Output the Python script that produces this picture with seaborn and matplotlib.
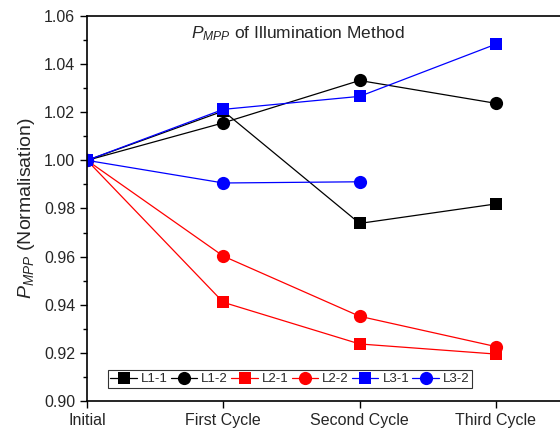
import numpy as np
import pandas as pd
import seaborn as sns
import matplotlib
matplotlib.use("Agg")
import matplotlib.pyplot as plt
from matplotlib.ticker import MultipleLocator, NullLocator

stages = ["Initial", "First Cycle", "Second Cycle", "Third Cycle"]
l1_1 = [1.000, 1.0205, 0.9738, 0.9819]
l1_2 = [1.000, 1.0156, 1.0332, 1.0237]
l2_1 = [1.000, 0.9410, 0.9237, 0.9195]
l2_2 = [1.000, 0.9602, 0.9352, 0.9226]
l3_1 = [1.000, 1.0212, 1.0266, 1.0483]
l3_2 = [1.000, 0.9906, 0.9911, np.nan]

series = {
    "L1-1": (l1_1, "black", "s"),
    "L1-2": (l1_2, "black", "o"),
    "L2-1": (l2_1, "red", "s"),
    "L2-2": (l2_2, "red", "o"),
    "L3-1": (l3_1, "blue", "s"),
    "L3-2": (l3_2, "blue", "o"),
}

sns.set_theme(style="ticks")
plt.rcParams["font.family"] = ["Liberation Sans", "DejaVu Sans"]
plt.rcParams["mathtext.fontset"] = "custom"
plt.rcParams["mathtext.it"] = "Liberation Sans:italic"
plt.rcParams["mathtext.rm"] = "Liberation Sans"

fig = plt.figure(figsize=(5.6, 4.29), dpi=100)
ax = fig.add_axes([0.1554, 0.0653, 0.8446, 0.8974])

xpos = np.arange(len(stages))
for name, (vals, color, marker) in series.items():
    df = pd.DataFrame({"x": xpos, "y": vals}).dropna()
    sns.lineplot(data=df, x="x", y="y", ax=ax, color=color, marker=marker,
                 markersize=9.5 if marker == "o" else 8.5, markeredgewidth=0,
                 linewidth=0.9, label=name)

ax.set_xlim(0, 3.47)
ax.set_ylim(0.90, 1.06)
ax.set_xticks(xpos)
ax.set_xticklabels(stages, fontsize=11.5)
ax.xaxis.set_minor_locator(NullLocator())
ax.yaxis.set_major_locator(MultipleLocator(0.02))
ax.yaxis.set_minor_locator(MultipleLocator(0.01))
ax.yaxis.set_major_formatter(plt.FormatStrFormatter("%.2f"))
ax.tick_params(axis="y", labelsize=11.5)
ax.tick_params(which="major", direction="out", length=5, width=1, color="black",
               top=False, right=False)
ax.tick_params(which="minor", direction="out", length=3, width=1, color="black",
               top=False, right=False)
ax.set_xlabel("")
ax.set_ylabel(r"$P_{MPP}$ (Normalisation)", fontsize=14, labelpad=5)

for side in ["left", "bottom", "top"]:
    ax.spines[side].set_color("black")
    ax.spines[side].set_linewidth(1.2)
ax.spines["right"].set_visible(False)

ax.text(0.447, 0.955, r"$P_{MPP}$ of Illumination Method", transform=ax.transAxes,
        ha="center", va="center", fontsize=12.5)

leg = ax.legend(ncol=6, loc="lower left", bbox_to_anchor=(0.044, 0.034),
                fontsize=9.5, frameon=True, fancybox=False, handlelength=2.0,
                handletextpad=0.3, columnspacing=0.25, borderpad=0.2,
                borderaxespad=0)
leg.get_frame().set_edgecolor("black")
leg.get_frame().set_linewidth(0.8)

fig.savefig("out.png", dpi=100)
